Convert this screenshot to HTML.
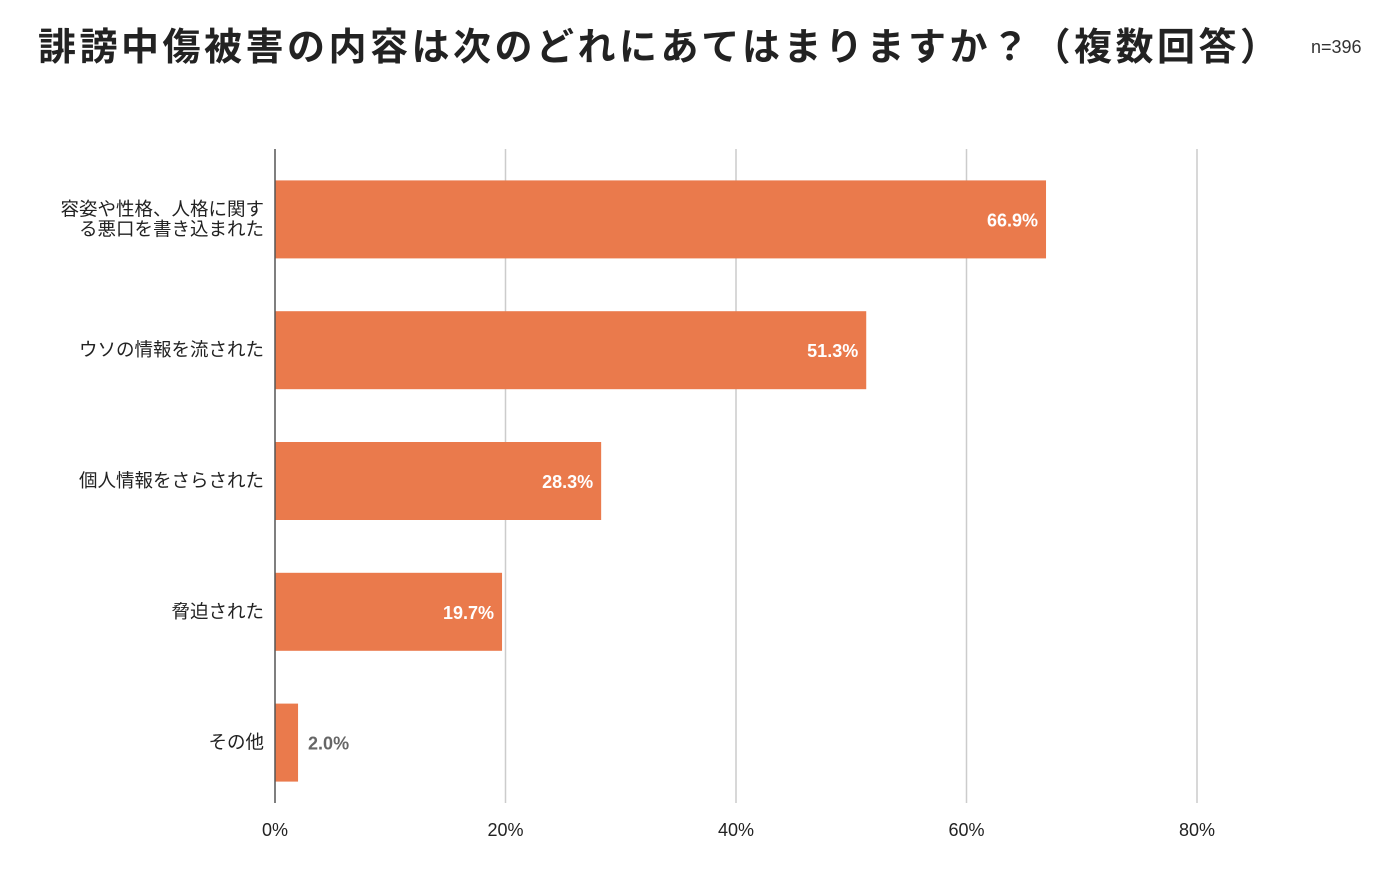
<!DOCTYPE html>
<html><head><meta charset="utf-8"><style>
body{margin:0;background:#fff;font-family:"Liberation Sans","Noto Sans CJK JP",sans-serif;}
svg text{font-family:"Liberation Sans","Noto Sans CJK JP",sans-serif;}
</style></head><body>
<svg width="1400" height="874" viewBox="0 0 1400 874" xmlns="http://www.w3.org/2000/svg">
<text x="38" y="60" font-size="38" font-weight="bold" letter-spacing="3.5" fill="#222">誹謗中傷被害の内容は次のどれにあてはまりますか？（複数回答）</text>
<text x="1311" y="53" font-size="18" fill="#333">n=396</text>
<g id="grid"></g><g id="bars"></g><g id="labels"></g>
<line x1="275" y1="149" x2="275" y2="803" stroke="#555" stroke-width="1.5"/>
</svg>
<script>
const categories=[["容姿や性格、人格に関す","る悪口を書き込まれた"],["ウソの情報を流された"],["個人情報をさらされた"],["脅迫された"],["その他"]];
const values=[66.9,51.3,28.3,19.7,2.0];
const ticks=[0,20,40,60,80];
const tickLabels=["0%","20%","40%","60%","80%"];
const NS="http://www.w3.org/2000/svg";
const xs=v=>275+v*(1197-275)/80;
const plotTop=149,plotBottom=803,band=(plotBottom-plotTop)/categories.length,bh=78;
const yc=i=>plotTop+band*(i+0.5)+5;
function mk(tag,attrs,parent,text){const e=document.createElementNS(NS,tag);for(const k in attrs)e.setAttribute(k,attrs[k]);if(text!=null)e.textContent=text;document.getElementById(parent).appendChild(e);return e;}
ticks.forEach((t,i)=>{
 if(t>0){const l=mk('line',{x1:xs(t),x2:xs(t),y1:plotTop,y2:plotBottom,stroke:'#ccc','stroke-width':1.5},'grid');
 
 }
 const tx=mk('text',{x:xs(t),y:836,'font-size':18,'text-anchor':'middle',fill:'#222'},'labels',tickLabels[i]);
 
 
});
values.forEach((v,i)=>{
 const c=yc(i);
 const r=mk('rect',{x:275,y:c-bh/2,width:xs(v)-275,height:bh,fill:'#EA7A4C'},'bars');
 
 
 const inside=xs(v)-275>60;
 const vl=mk('text',{x:inside?xs(v)-8:xs(v)+10,y:c+7,'font-size':18,'font-weight':'bold','text-anchor':inside?'end':'start',fill:inside?'#fff':'#666'},'labels',v.toFixed(1)+'%');
 
 
 const lines=categories[i];
 lines.forEach((s,j)=>{
  const t=mk('text',{x:264,y:c+6+(j-(lines.length-1)/2)*20,'font-size':18.5,'text-anchor':'end',fill:'#222'},'labels',s);
  
  
 });
});
</script>
</body></html>
